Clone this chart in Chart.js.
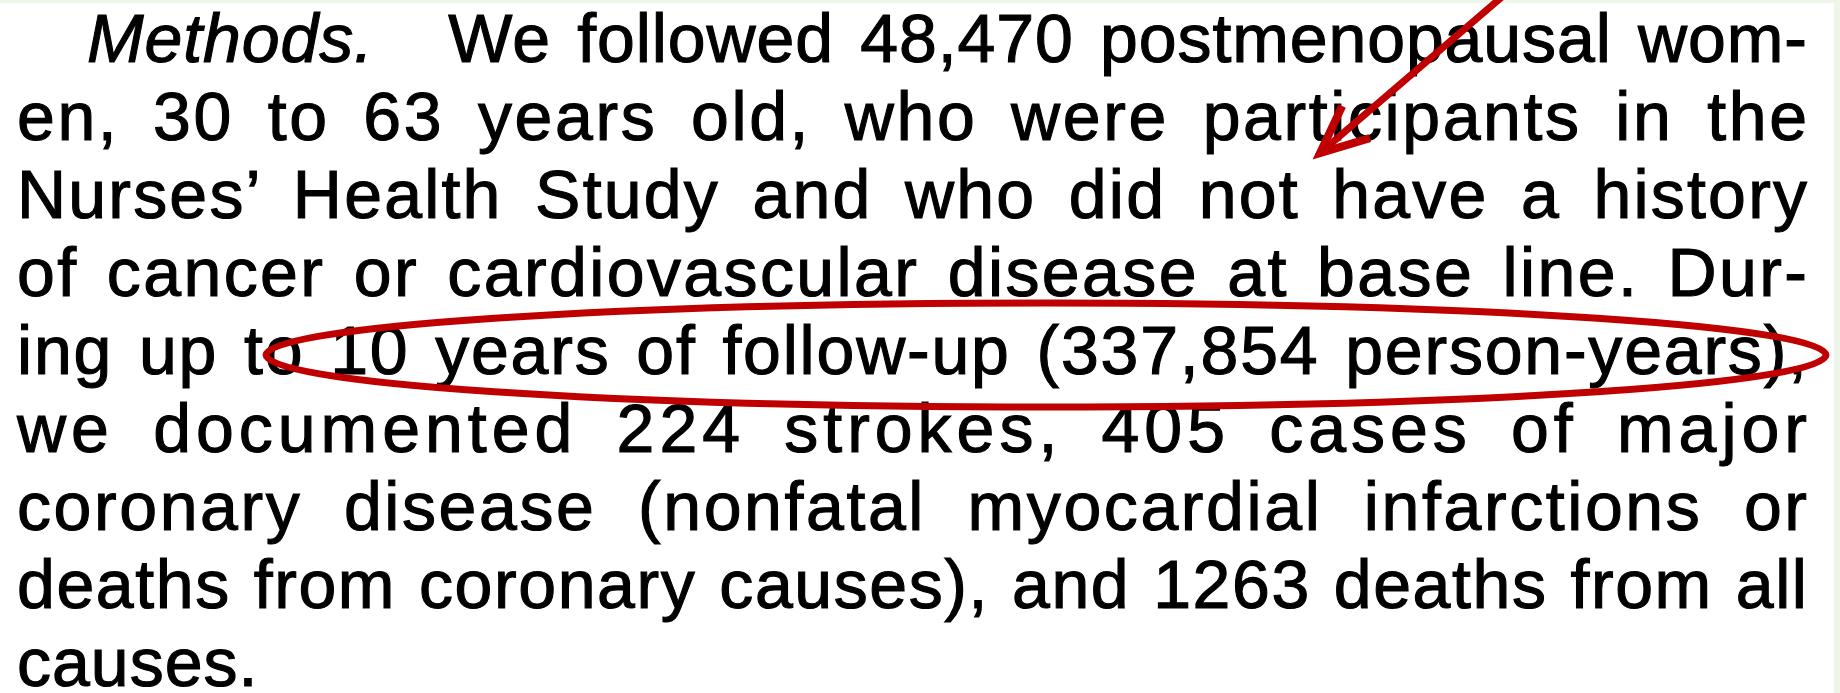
<!DOCTYPE html>
<html lang="en">
<head>
    <meta charset="UTF-8">
    <title>Methods excerpt</title>
    <style>
        html, body {
            margin: 0;
            padding: 0;
            width: 1840px;
            height: 693px;
            overflow: hidden;
            background-color: #eef5e9;
        }

        .page {
            position: absolute;
            left: 0;
            top: 3px;
            width: 1834px;
            height: 690px;
            background-color: #ffffff;
        }

        .text {
            position: absolute;
            left: 17px;
            top: -1px;
            width: 1790px;
            font-family: "Liberation Sans", Arial, sans-serif;
            font-size: 68px;
            line-height: 78px;
            color: #000;
            -webkit-text-stroke: 1.1px #000;
        }

        .text div {
            text-align: justify;
            text-align-last: justify;
            height: 78px;
        }

        .text div.last {
            text-align: left;
            text-align-last: left;
        }

        .text div.first {
            text-indent: 70px;
        }

        .lead {
            font-style: italic;
        }

        .gap {
            display: inline-block;
            width: 48px;
            text-indent: 0;
        }

        #marks {
            position: absolute;
            left: 0;
            top: 0;
        }
    </style>
</head>
<body>
    <div class="page"></div>
    <div class="text" id="para"></div>
    <canvas id="marks" width="1840" height="693"></canvas>

    <script src="https://cdn.jsdelivr.net/npm/chart.js"></script>
    <script>
        // paragraph text, one entry per printed line
        const leadIn = 'Methods.';
        const bodyLines = [
            'We followed 48,470 postmenopausal wom-',
            'en, 30 to 63 years old, who were participants in the',
            'Nurses\u2019 Health Study and who did not have a history',
            'of cancer or cardiovascular disease at base line. Dur-',
            'ing up to 10 years of follow-up (337,854 person-years),',
            'we documented 224 strokes, 405 cases of major',
            'coronary disease (nonfatal myocardial infarctions or',
            'deaths from coronary causes), and 1263 deaths from all',
            'causes.'
        ];
        // letter spacing of each printed line (px), the typesetter spread some lines
        const lineTracking = [0.9, 2.6, 2.2, 2.4, 1.8, 5, 2.6, 1.6, 1];

        // red highlight: ellipse round line 5, arrow pointing into line 2
        const ellipseCenter = [1046, 355];
        const ellipseRadii = [780, 52];
        const arrowFrom = [1510, -10];
        const arrowTo = [1320, 153];
        const markColor = '#c00000';

        const para = document.getElementById('para');
        bodyLines.forEach(function (line, i) {
            const row = document.createElement('div');
            if (i === 0) {
                row.className = 'first';
                const lead = document.createElement('span');
                lead.className = 'lead';
                lead.textContent = leadIn;
                row.appendChild(lead);
                const gap = document.createElement('span');
                gap.className = 'gap';
                row.appendChild(gap);
                row.appendChild(document.createTextNode(' ' + line));
            } else {
                row.textContent = line;
            }
            if (i === bodyLines.length - 1) row.className = 'last';
            row.style.letterSpacing = lineTracking[i] + 'px';
            row.style.marginRight = (-lineTracking[i]) + 'px';
            para.appendChild(row);
        });

        const highlightPlugin = {
            id: 'highlight',
            afterDraw: function (chart) {
                const ctx = chart.ctx;
                const x = chart.scales.x;
                const y = chart.scales.y;
                ctx.save();
                ctx.strokeStyle = markColor;

                // ellipse
                const cx = x.getPixelForValue(ellipseCenter[0]);
                const cy = y.getPixelForValue(ellipseCenter[1]);
                const rx = x.getPixelForValue(ellipseCenter[0] + ellipseRadii[0]) - cx;
                const ry = y.getPixelForValue(ellipseCenter[1] + ellipseRadii[1]) - cy;
                ctx.lineWidth = 7;
                ctx.beginPath();
                ctx.ellipse(cx, cy, Math.abs(rx), Math.abs(ry), 0, 0, Math.PI * 2);
                ctx.stroke();

                // arrow shaft
                const x1 = x.getPixelForValue(arrowFrom[0]);
                const y1 = y.getPixelForValue(arrowFrom[1]);
                const x2 = x.getPixelForValue(arrowTo[0]);
                const y2 = y.getPixelForValue(arrowTo[1]);
                ctx.lineWidth = 7;
                ctx.beginPath();
                ctx.moveTo(x1, y1);
                ctx.lineTo(x2, y2);
                ctx.stroke();

                // open arrow head
                const ang = Math.atan2(y1 - y2, x1 - x2);
                const len = 52;
                const spread = 0.42;
                ctx.lineWidth = 8;
                ctx.lineJoin = 'miter';
                ctx.beginPath();
                ctx.moveTo(x2 + len * Math.cos(ang - spread), y2 + len * Math.sin(ang - spread));
                ctx.lineTo(x2, y2);
                ctx.lineTo(x2 + len * Math.cos(ang + spread), y2 + len * Math.sin(ang + spread));
                ctx.stroke();
                ctx.restore();
            }
        };

        new Chart(document.getElementById('marks'), {
            type: 'scatter',
            data: { datasets: [] },
            options: {
                responsive: false,
                animation: false,
                events: [],
                layout: { padding: 0 },
                plugins: {
                    legend: { display: false },
                    tooltip: { enabled: false }
                },
                scales: {
                    x: { type: 'linear', min: 0, max: 1840, display: false },
                    y: { type: 'linear', min: 0, max: 693, reverse: true, display: false }
                }
            },
            plugins: [highlightPlugin]
        });
    </script>
</body>
</html>
